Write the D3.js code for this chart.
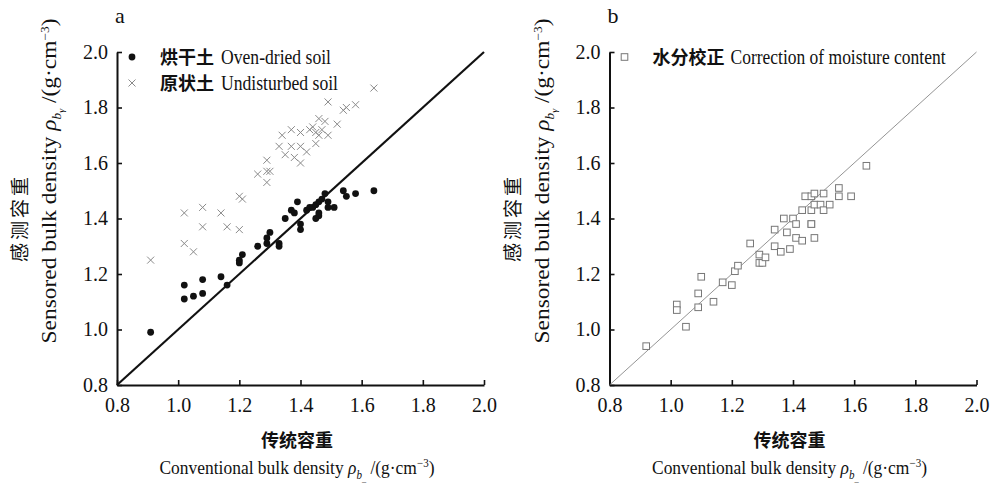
<!DOCTYPE html>
<html>
<head>
<meta charset="utf-8">
<script src="https://cdn.jsdelivr.net/npm/d3@7"></script>
<style>
  body { margin: 0; background: #fff; }
  svg { display: block; }
  text { font-family: "Liberation Serif", "DejaVu Serif", serif; fill: #111; }
  .cn { font-family: "Noto Sans CJK SC", sans-serif; }
</style>
</head>
<body>
<svg width="990" height="484"></svg>
<script>
// oven-dried soil (panel a, filled circles)
const dryX = [0.91, 1.02, 1.02, 1.05, 1.08, 1.08, 1.14, 1.16, 1.20, 1.20, 1.21, 1.26, 1.29, 1.30, 1.29, 1.33, 1.33,
	1.35, 1.37, 1.38, 1.39, 1.40, 1.40, 1.42, 1.43, 1.44, 1.45, 1.46, 1.46, 1.45, 1.46, 1.47, 1.48, 1.49, 1.49,
	1.51, 1.54, 1.55, 1.58, 1.64];
const dryY = [0.99, 1.16, 1.11, 1.12, 1.18, 1.13, 1.19, 1.16, 1.25, 1.24, 1.27, 1.30, 1.33, 1.35, 1.31, 1.31, 1.30,
	1.40, 1.43, 1.42, 1.46, 1.38, 1.36, 1.43, 1.44, 1.44, 1.45, 1.42, 1.41, 1.40, 1.46, 1.47, 1.49, 1.46, 1.44,
	1.44, 1.50, 1.48, 1.49, 1.50];

// undisturbed soil (panel a, crosses)
const undX = [0.91, 1.02, 1.02, 1.05, 1.08, 1.08, 1.14, 1.16, 1.20, 1.20, 1.21, 1.26, 1.29, 1.29, 1.30, 1.29,
	1.33, 1.34, 1.35, 1.37, 1.37, 1.38, 1.40, 1.40, 1.40, 1.42, 1.43, 1.44, 1.45, 1.45, 1.46, 1.46, 1.47,
	1.48, 1.49, 1.52, 1.49, 1.54, 1.55, 1.58, 1.64];
const undY = [1.25, 1.42, 1.31, 1.28, 1.44, 1.37, 1.42, 1.37, 1.36, 1.48, 1.47, 1.56, 1.61, 1.57, 1.57, 1.53,
	1.66, 1.70, 1.63, 1.72, 1.66, 1.62, 1.71, 1.66, 1.60, 1.64, 1.72, 1.73, 1.71, 1.67, 1.70, 1.76, 1.72,
	1.75, 1.70, 1.74, 1.82, 1.79, 1.80, 1.81, 1.87];

// moisture corrected (panel b, squares)
const corX = [0.92, 1.02, 1.02, 1.05, 1.09, 1.09, 1.10, 1.14, 1.17, 1.20, 1.21, 1.22, 1.26, 1.29, 1.29, 1.30,
	1.31, 1.34, 1.34, 1.36, 1.37, 1.38, 1.39, 1.40, 1.41, 1.41, 1.43, 1.43, 1.44, 1.46, 1.46, 1.46, 1.46,
	1.47, 1.47, 1.47, 1.49, 1.50, 1.50, 1.52, 1.55, 1.55, 1.59, 1.64];
const corY = [0.94, 1.09, 1.07, 1.01, 1.08, 1.13, 1.19, 1.10, 1.17, 1.16, 1.21, 1.23, 1.31, 1.27, 1.24, 1.24,
	1.26, 1.30, 1.36, 1.28, 1.40, 1.35, 1.29, 1.40, 1.38, 1.33, 1.32, 1.43, 1.48, 1.43, 1.38, 1.38, 1.48,
	1.45, 1.33, 1.49, 1.45, 1.49, 1.43, 1.45, 1.48, 1.51, 1.48, 1.59];

const ticks = [0.8, 1.0, 1.2, 1.4, 1.6, 1.8, 2.0];
const domain = [0.8, 2.0];

const svg = d3.select("svg");

function drawPanel(opt) {
	const x = d3.scaleLinear().domain(domain).range([opt.left, opt.left + 367]);
	const y = d3.scaleLinear().domain(domain).range([385, 52]);
	const g = svg.append("g");

	const xAxis = g.append("g")
		.attr("transform", "translate(0,385)")
		.call(d3.axisBottom(x).tickValues(ticks).tickFormat(d3.format(".1f"))
			.tickSizeInner(-5).tickSizeOuter(0).tickPadding(13));
	const yAxis = g.append("g")
		.attr("transform", "translate(" + opt.left + ",0)")
		.call(d3.axisLeft(y).tickValues(ticks).tickFormat(d3.format(".1f"))
			.tickSizeInner(-5).tickSizeOuter(0).tickPadding(9));
	[xAxis, yAxis].forEach(a => {
		a.select(".domain").attr("stroke", "#111").attr("stroke-width", 2);
		a.selectAll(".tick line").attr("stroke", "#111").attr("stroke-width", 1.6);
		a.selectAll(".tick text").attr("font-size", 20).attr("fill", "#111")
			.attr("font-family", "Liberation Serif");
	});

	// 1:1 line
	g.append("line")
		.attr("x1", x(0.8)).attr("y1", y(0.8))
		.attr("x2", x(2.0)).attr("y2", y(2.0))
		.attr("stroke", opt.lineColor).attr("stroke-width", opt.lineWidth);

	opt.series.forEach(s => {
		const pts = s.xs.map((v, i) => [v, s.ys[i]]);
		const sel = g.append("g").selectAll("g").data(pts).enter().append("g")
			.attr("transform", d => "translate(" + x(d[0]) + "," + y(d[1]) + ")");
		drawMarker(sel, s.type);
	});

	// legend
	opt.series.forEach((s, i) => {
		const ly = 57 + i * 26;
		const m = g.append("g").attr("transform", "translate(" + (opt.left + 15) + "," + ly + ")");
		drawMarker(m, s.type);
		g.append("text").attr("class", "cn")
			.attr("x", opt.left + 43).attr("y", ly + 7)
			.attr("font-size", 18).attr("font-weight", "bold")
			.text(s.cn);
		g.append("text")
			.attr("x", opt.left + s.enX).attr("y", ly + 7)
			.attr("font-size", 20)
			.attr("textLength", s.enW).attr("lengthAdjust", "spacingAndGlyphs")
			.text(s.en);
	});

	// panel letter
	g.append("text").attr("x", opt.left - 2).attr("y", 23).attr("font-size", 22).text(opt.letter);

	// x titles
	const cx = opt.left + 180;
	g.append("text").attr("class", "cn")
		.attr("x", cx).attr("y", 447).attr("text-anchor", "middle")
		.attr("font-size", 18).attr("font-weight", "bold")
		.text("传统容重");
	const xt = g.append("text")
		.attr("x", cx).attr("y", 474).attr("text-anchor", "middle")
		.attr("font-size", 19)
		.attr("textLength", 275).attr("lengthAdjust", "spacingAndGlyphs");
	xt.append("tspan").text("Conventional bulk density ");
	xt.append("tspan").attr("font-style", "italic").text("ρ");
	xt.append("tspan").attr("font-style", "italic").attr("font-size", 12).attr("dy", 5).text("b");
	xt.append("tspan").attr("font-size", 9).attr("dy", 3).text("_");
	xt.append("tspan").attr("dy", -8).text(" /(g·cm");
	xt.append("tspan").attr("font-size", 12).attr("dy", -7).text("−3");
	xt.append("tspan").attr("dy", 7).text(")");

	// y titles
	g.append("text").attr("class", "cn")
		.attr("transform", "translate(" + (opt.left - 90) + ",218) rotate(-90)")
		.attr("text-anchor", "middle").attr("font-size", 19).attr("letter-spacing", 3)
		.attr("fill", "#222")
		.text("感测容重");
	const yt = g.append("text")
		.attr("transform", "translate(" + (opt.left - 61) + ",181) rotate(-90)")
		.attr("text-anchor", "middle").attr("font-size", 21)
		.attr("textLength", 325).attr("lengthAdjust", "spacingAndGlyphs");
	yt.append("tspan").text("Sensored bulk density ");
	yt.append("tspan").attr("font-style", "italic").text("ρ");
	yt.append("tspan").attr("font-style", "italic").attr("font-size", 12).attr("dy", 5).text("b");
	yt.append("tspan").attr("font-style", "italic").attr("font-size", 9).attr("dy", 3).text("γ");
	yt.append("tspan").attr("dy", -8).text(" /(g·cm");
	yt.append("tspan").attr("font-size", 12).attr("dy", -7).text("−3");
	yt.append("tspan").attr("dy", 7).text(")");
}

function drawMarker(sel, type) {
	if (type === "circle") {
		sel.append("circle").attr("r", 3.4).attr("fill", "#111");
	} else if (type === "cross") {
		sel.append("path").attr("d", "M-3.5,-3.5L3.5,3.5M-3.5,3.5L3.5,-3.5")
			.attr("stroke", "#8a8a8a").attr("stroke-width", 1).attr("fill", "none");
	} else {
		sel.append("rect").attr("x", -3.3).attr("y", -3.3).attr("width", 6.6).attr("height", 6.6)
			.attr("fill", "#fff").attr("stroke", "#777").attr("stroke-width", 1);
	}
}

drawPanel({
	left: 117, letter: "a", lineColor: "#111", lineWidth: 2.2,
	series: [
		{ xs: dryX, ys: dryY, type: "circle", cn: "烘干土", en: "Oven-dried soil", enX: 104, enW: 110 },
		{ xs: undX, ys: undY, type: "cross", cn: "原状土", en: "Undisturbed soil", enX: 104, enW: 117 }
	]
});

drawPanel({
	left: 609.5, letter: "b", lineColor: "#888", lineWidth: 0.9,
	series: [
		{ xs: corX, ys: corY, type: "square", cn: "水分校正", en: "Correction of moisture content", enX: 121, enW: 215 }
	]
});
</script>
</body>
</html>
